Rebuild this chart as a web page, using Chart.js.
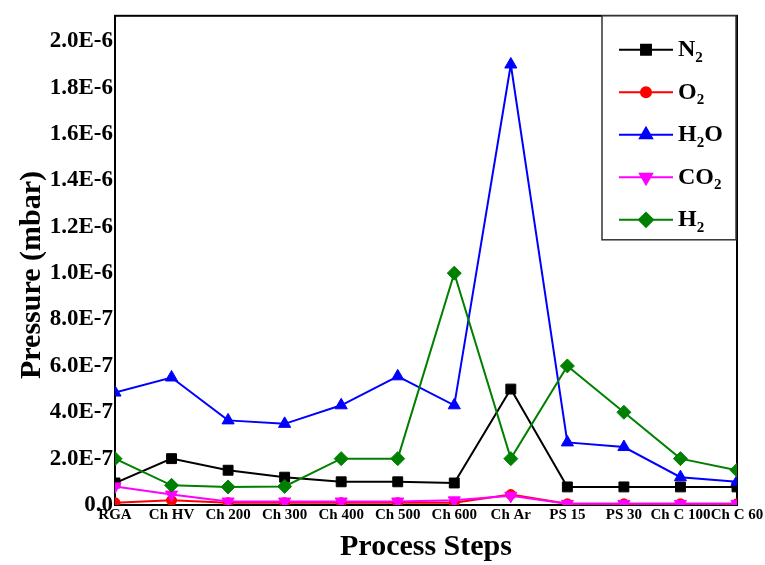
<!DOCTYPE html>
<html>
<head>
<meta charset="utf-8">
<script src="https://cdn.jsdelivr.net/npm/chart.js@4.4.1/dist/chart.umd.min.js"></script>
<style>
  html, body { margin: 0; padding: 0; background: #fff; }
  #wrap { width: 765px; height: 565px; }
</style>
</head>
<body>
<div id="wrap"><canvas id="myChart" width="765" height="565"></canvas></div>
<script>
// process steps on the x axis
const steps = ["RGA", "Ch HV", "Ch 200", "Ch 300", "Ch 400", "Ch 500", "Ch 600", "Ch Ar", "PS 15", "PS 30", "Ch C 100", "Ch C 60"];

// partial pressures (mbar)
const n2  = [0.95e-7, 2.0e-7, 1.5e-7, 1.2e-7, 1.0e-7, 1.0e-7, 0.95e-7, 5.0e-7, 0.78e-7, 0.78e-7, 0.78e-7, 0.78e-7];
const o2  = [0.1e-7, 0.2e-7, 0.1e-7, 0.1e-7, 0.1e-7, 0.1e-7, 0.1e-7, 0.45e-7, 0.05e-7, 0.05e-7, 0.05e-7, 0.05e-7];
const h2o = [4.85e-7, 5.5e-7, 3.65e-7, 3.5e-7, 4.3e-7, 5.55e-7, 4.3e-7, 1.9e-6, 2.7e-7, 2.5e-7, 1.2e-7, 1.0e-7];
const co2 = [0.8e-7, 0.45e-7, 0.15e-7, 0.15e-7, 0.15e-7, 0.15e-7, 0.2e-7, 0.4e-7, 0.05e-7, 0.05e-7, 0.05e-7, 0.05e-7];
const h2  = [2.0e-7, 0.85e-7, 0.78e-7, 0.8e-7, 2.0e-7, 2.0e-7, 1.0e-6, 2.0e-7, 6.0e-7, 4.0e-7, 2.0e-7, 1.5e-7];

// y tick values
const yTicks = [0, 2e-7, 4e-7, 6e-7, 8e-7, 1e-6, 1.2e-6, 1.4e-6, 1.6e-6, 1.8e-6, 2e-6];

const serif = '"Liberation Serif", "Times New Roman", serif';

// "2.0E-7" 형식
function sci(v) {
  if (v === 0) return "0.0";
  const e = Math.floor(Math.log10(v) + 1e-9);
  const m = v / Math.pow(10, e);
  return m.toFixed(1) + "E" + e;
}

function series(label, data, color, style, radius, rotation, order) {
  return {
    label: label,
    data: data,
    borderColor: color,
    backgroundColor: color,
    borderWidth: 2,
    pointStyle: style,
    pointRadius: radius,
    pointHoverRadius: radius,
    pointRotation: rotation,
    pointBorderWidth: 1,
    tension: 0,
    clip: 0,
    order: order,
  };
}

const datasets = [
  series("N2", n2, "#000000", "rect", 7, 0, 5),
  series("O2", o2, "#ff0000", "circle", 5, 0, 4),
  series("H2O", h2o, "#0000ff", "triangle", 7, 0, 3),
  series("CO2", co2, "#ff00ff", "triangle", 7, 180, 2),
  series("H2", h2, "#008000", "rectRot", 7, 0, 1),
];

// 축 테두리 (사각 프레임)
const framePlugin = {
  id: "frame",
  beforeDatasetsDraw(chart) {
    const { ctx, chartArea: a } = chart;
    ctx.save();
    ctx.strokeStyle = "#000";
    ctx.lineWidth = 2;
    ctx.strokeRect(a.left, a.top, a.right - a.left, a.bottom - a.top);
    ctx.restore();
  },
};

// y축 제목
const yTitlePlugin = {
  id: "yTitle",
  afterDraw(chart) {
    const { ctx } = chart;
    ctx.save();
    ctx.translate(32, 275);
    ctx.rotate(-Math.PI / 2);
    ctx.font = "bold 30px " + serif;
    ctx.fillStyle = "#000";
    ctx.textAlign = "center";
    ctx.textBaseline = "middle";
    ctx.fillText("Pressure (mbar)", 0, 0);
    ctx.restore();
  },
};

// 숫자는 아래첨자로 그리는 범례
function drawFormula(ctx, text, x, y) {
  for (const ch of text) {
    if (/[0-9]/.test(ch)) {
      ctx.font = "bold 15px " + serif;
      ctx.fillText(ch, x, y + 8);
    } else {
      ctx.font = "bold 24px " + serif;
      ctx.fillText(ch, x, y);
    }
    x += ctx.measureText(ch).width;
  }
}

const legendPlugin = {
  id: "formulaLegend",
  afterDraw(chart) {
    const { ctx, chartArea: a } = chart;
    const bx = a.right - 135, by = a.top, bw = 134, bh = 224;
    ctx.save();
    ctx.fillStyle = "#fff";
    ctx.fillRect(bx, by, bw, bh);
    ctx.strokeStyle = "#333";
    ctx.lineWidth = 1.5;
    ctx.strokeRect(bx, by, bw, bh);
    chart.data.datasets.forEach((ds, i) => {
      const y = by + 34 + i * 42.5;
      ctx.strokeStyle = ds.borderColor;
      ctx.lineWidth = 2;
      ctx.beginPath();
      ctx.moveTo(bx + 17, y);
      ctx.lineTo(bx + 71, y);
      ctx.stroke();
      ctx.fillStyle = ds.backgroundColor;
      Chart.helpers.drawPoint(ctx, {
        pointStyle: ds.pointStyle,
        radius: ds.pointRadius,
        rotation: ds.pointRotation,
        borderWidth: 1,
      }, bx + 44, y);
      ctx.fillStyle = "#000";
      ctx.textBaseline = "middle";
      ctx.textAlign = "left";
      drawFormula(ctx, ds.label, bx + 76, y);
    });
    ctx.restore();
  },
};

const ctx = document.getElementById("myChart").getContext("2d");
const myChart = new Chart(ctx, {
  type: "line",
  data: { labels: steps, datasets: datasets },
  options: {
    responsive: false,
    animation: false,
    layout: { padding: { left: 0, right: 28, top: 14, bottom: 0 } },
    plugins: {
      legend: { display: false },
      tooltip: { enabled: false },
    },
    scales: {
      x: {
        type: "category",
        offset: false,
        grid: { display: false, drawTicks: false },
        border: { display: false },
        ticks: {
          color: "#000",
          font: { family: serif, size: 15, weight: "bold" },
          padding: 1,
          autoSkip: false,
          maxRotation: 0,
          minRotation: 0,
        },
        title: {
          display: true,
          text: "Process Steps",
          color: "#000",
          font: { family: serif, size: 30, weight: "bold" },
          padding: 0,
        },
        afterFit(scale) { scale.height = 60; },
      },
      y: {
        min: 0,
        max: 2.11e-6,
        grid: { display: false, drawTicks: false },
        border: { display: false },
        ticks: {
          color: "#000",
          font: { family: serif, size: 23, weight: "bold" },
          padding: 2,
          callback: (v) => sci(v),
        },
        afterBuildTicks(scale) { scale.ticks = yTicks.map((v) => ({ value: v })); },
        afterFit(scale) { scale.width = 115; },
      },
    },
  },
  plugins: [framePlugin, yTitlePlugin, legendPlugin],
});
</script>
</body>
</html>
